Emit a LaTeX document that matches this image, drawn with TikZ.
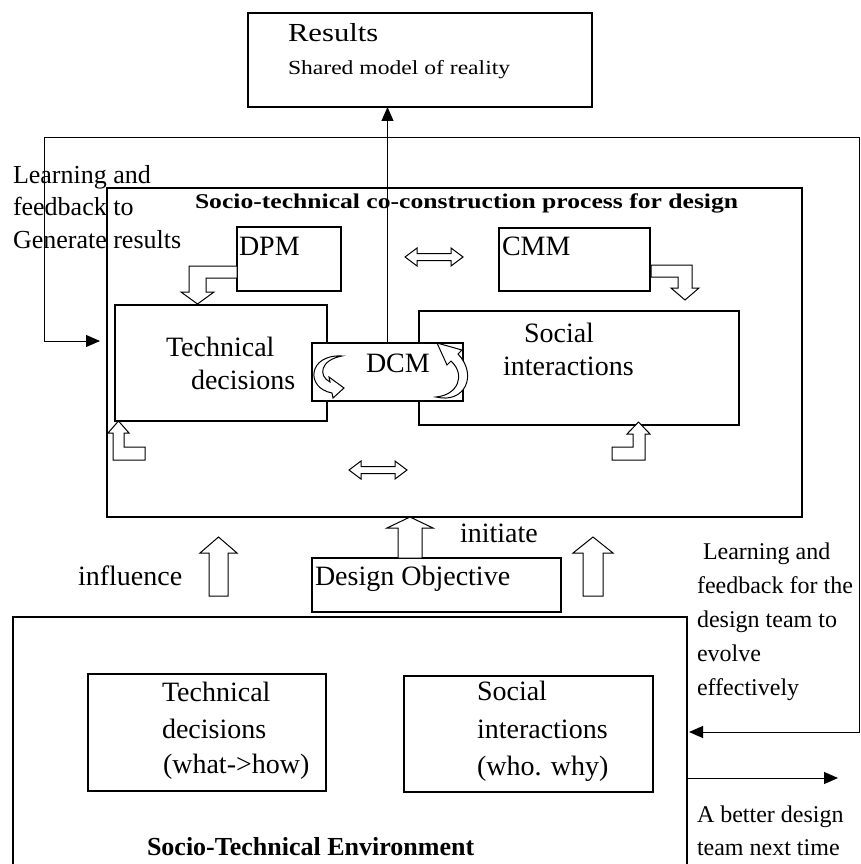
\documentclass[tikz,border=0pt]{standalone}
\usepackage{fontspec}
\setmainfont{Liberation Serif}
\newfontfamily\widefont[FakeStretch=1.18]{Liberation Serif}
\newfontfamily\titlefont[FakeStretch=1.22]{Liberation Serif}
\usetikzlibrary{arrows.meta}
\newcommand{\setsz}[1]{\fontsize{#1}{#1}\selectfont}

\begin{document}
\begin{tikzpicture}[x=1pt,y=-1pt,
  box/.style={draw, line width=1.3pt, anchor=north west, inner sep=0pt, outer sep=0pt},
  lbl/.style={anchor=base west, inner sep=0pt, outer sep=0pt},
  blk/.style={draw, line width=1pt, fill=white, line join=miter},
  conn/.style={line width=1pt, -{Triangle[length=14pt,width=12pt]}},
  loop/.style={line width=1pt, {Triangle[length=14pt,width=12pt]}-{Triangle[length=14pt,width=12pt]}},
]
\useasboundingbox (0,0) rectangle (861,864);
\begin{scope}
\clip (0,0) rectangle (861,864);

% ---- boxes ----
\node[box, minimum width=344pt, minimum height=94pt] (results) at (248,13) {};
\node[box, minimum width=695pt, minimum height=329pt] (process) at (107,188) {};
\node[box, minimum width=104pt, minimum height=64pt] (dpm) at (237,227) {};
\node[box, minimum width=151pt, minimum height=63pt] (cmm) at (499,228) {};
\node[box, minimum width=212pt, minimum height=116pt] (tech) at (115,305) {};
\node[box, minimum width=320pt, minimum height=114pt] (social) at (419,311) {};
\node[box, fill=white, minimum width=151pt, minimum height=58pt] (dcm) at (312,343) {};
\node[box, minimum width=249pt, minimum height=54pt] (objective) at (312,558) {};
\node[box, minimum width=674pt, minimum height=290pt] (env) at (13,617) {};
\node[box, minimum width=238pt, minimum height=117pt] (envtech) at (88,674) {};
\node[box, minimum width=249pt, minimum height=116pt] (envsoc) at (404,676) {};

% ---- connectors ----
\draw[conn] (dcm.north) -- (dcm.north |- results.south);
\coordinate (fbL) at (100,341);
\coordinate (tl) at (44,137);
\coordinate (tr) at (859,137);
\coordinate (fbR) at (689,732);
\draw[loop] (fbL) -| (tl) -- (tr) |- (fbR);
\coordinate (better) at (838,778);
\draw[conn] (env.east |- better) -- (better);

% ---- hollow block arrows ----
% DPM -> technical decisions
\draw[blk] (237,266) -- (189,266) -- (189,292) -- (181,292) -- (197.5,304) -- (214,292) -- (206,292) -- (206,278) -- (237,278) -- cycle;
% CMM -> social interactions
\draw[blk] (651,265) -- (692,265) -- (692,288) -- (699,288) -- (685,300) -- (671,288) -- (678,288) -- (678,277) -- (651,277) -- cycle;
% lower bent arrows
\draw[blk] (113,433) -- (108,433) -- (118.5,421) -- (129,433) -- (124,433) -- (124,447) -- (145,447) -- (145,460) -- (113,460) -- cycle;
\draw[blk] (645,434) -- (650,434) -- (638.5,422) -- (627,434) -- (633,434) -- (633,447) -- (612,447) -- (612,460) -- (645,460) -- cycle;
% two-way arrows
\draw[blk] (405,257) -- (417,248) -- (417,253.5) -- (451,253.5) -- (451,248) -- (463,257) -- (451,266) -- (451,260.5) -- (417,260.5) -- (417,266) -- cycle;
\draw[blk] (349,470) -- (361,461) -- (361,466.5) -- (395,466.5) -- (395,461) -- (407,470) -- (395,479) -- (395,473.5) -- (361,473.5) -- (361,479) -- cycle;
% upward arrows
\draw[blk] (209,596) -- (209,553) -- (200,553) -- (218.5,537) -- (237,553) -- (228,553) -- (228,596) -- cycle;
\draw[blk] (583,596) -- (583,553) -- (573,553) -- (593,537) -- (613,553) -- (603,553) -- (603,596) -- cycle;
\draw[blk] (398,558) -- (398,528) -- (387,528) -- (410,517) -- (433,528) -- (422,528) -- (422,558) -- cycle;
% curved arrows around DCM
\draw[blk] (342,356) .. controls (308,354) and (305,388) .. (332,393) -- (333,398) -- (344,388) -- (329,377) -- (330,382) .. controls (318,376) and (320,360) .. (342,356) -- cycle;
\draw[blk] (436,397) .. controls (465,404) and (478,375) .. (458,354) -- (462,350) -- (437,343) -- (447,365) -- (451,361) .. controls (466,375) and (458,395) .. (436,397) -- cycle;

% ---- labels ----
\node[lbl, font={\widefont\setsz{26}}] (tRes) at (288,42) {Results};
\node[lbl, font={\widefont\setsz{20}}] (tShared) at (288,75) {Shared model of reality};

\node[lbl, font=\setsz{26}] (fb1) at (13,183) {Learning and};
\node[lbl, font=\setsz{26}] (fb2) at (13,215) {feedback to};
\node[lbl, font=\setsz{26}] (fb3) at (13,248) {Generate results};

\node[lbl, font={\titlefont\bfseries\setsz{21}}] (tProc) at (195,208) {Socio-technical co-construction process for design};

\node[lbl, font=\setsz{28}] (tDPM) at (239,255) {DPM};
\node[lbl, font=\setsz{28}] (tCMM) at (502,255) {CMM};
\node[lbl, font=\setsz{28}] (tDCM) at (366,372) {DCM};
\node[lbl, font=\setsz{28}] (tTech1) at (166,356) {Technical};
\node[lbl, font=\setsz{28}] (tTech2) at (191,389) {decisions};
\node[lbl, font=\setsz{28}] (tSoc1) at (524,342) {Social};
\node[lbl, font=\setsz{28}] (tSoc2) at (503,375) {interactions};

\node[lbl, font=\setsz{28}] (tInfl) at (78,585) {influence};
\node[lbl, font=\setsz{28}] (tObj) at (315,585) {Design Objective};
\node[lbl, font=\setsz{28}] (tInit) at (460,542) {initiate};

\node[lbl, font=\setsz{24}] (lf1) at (703,559) {Learning and};
\node[lbl, font=\setsz{24}] (lf2) at (697,593) {feedback for the};
\node[lbl, font=\setsz{24}] (lf3) at (697,627) {design team to};
\node[lbl, font=\setsz{24}] (lf4) at (697,661) {evolve};
\node[lbl, font=\setsz{24}] (lf5) at (697,695) {effectively};
\node[lbl, font=\setsz{24}] (bt1) at (697,822) {A better design};
\node[lbl, font=\setsz{24}] (bt2) at (697,855) {team next time};

\node[lbl, font=\setsz{28}] (eT1) at (162,701) {Technical};
\node[lbl, font=\setsz{28}] (eT2) at (162,738) {decisions};
\node[lbl, font=\setsz{28}] (eT3) at (163,773) {(what->how)};
\node[lbl, font=\setsz{28}] (eS1) at (477,700) {Social};
\node[lbl, font=\setsz{28}] (eS2) at (477,738) {interactions};
\node[lbl, font=\setsz{28}] (eS3) at (477,775) {(who. why)};
\node[lbl, font={\bfseries\setsz{26}}] (tEnv) at (147,855) {Socio-Technical Environment};
\end{scope}
\end{tikzpicture}
\end{document}
